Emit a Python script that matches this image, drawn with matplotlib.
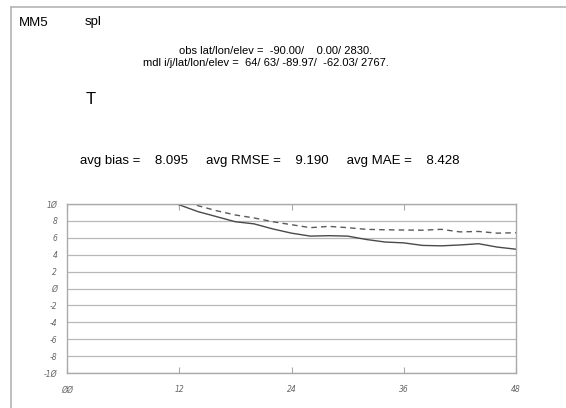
#!/usr/bin/env python3
"""
MM5 point verification plot: bias and RMSE of T over a 48 h forecast
"""

import matplotlib
matplotlib.use("Agg")
import matplotlib.pyplot as plt
from matplotlib.lines import Line2D

# forecast hour and verification stats
hours = [0, 2, 4, 6, 8, 10, 12, 14, 16, 18, 20, 22, 24,
         26, 28, 30, 32, 34, 36, 38, 40, 42, 44, 46, 48]
bias = [16.0, 14.5, 13.2, 12.2, 11.4, 10.6, 9.9, 9.1, 8.5, 7.9, 7.65, 7.05, 6.55,
        6.2, 6.25, 6.2, 5.8, 5.5, 5.4, 5.1, 5.05, 5.15, 5.3, 4.9, 4.65]
rmse = [17.5, 16.0, 14.6, 13.4, 12.3, 11.3, 10.5, 9.8, 9.2, 8.7, 8.35, 7.9, 7.55,
        7.2, 7.35, 7.2, 7.0, 6.95, 6.92, 6.9, 7.0, 6.7, 6.75, 6.55, 6.6]

x_ticks = [0, 12, 24, 36, 48]
x_labels = ["ØØ", "12", "24", "36", "48"]
y_ticks = [10, 8, 6, 4, 2, 0, -2, -4, -6, -8, -10]
y_labels = ["1Ø", "8", "6", "4", "2", "Ø", "-2", "-4", "-6", "-8", "-1Ø"]

model = "MM5"
station = "spl"
variable = "T"
obs_line = "obs lat/lon/elev =  -90.00/    0.00/ 2830."
mdl_line = "mdl i/j/lat/lon/elev =  64/ 63/ -89.97/  -62.03/ 2767."
stats_line = "avg bias =    8.095     avg RMSE =    9.190     avg MAE =    8.428"

plt.rcParams['font.family'] = ['Liberation Sans', 'DejaVu Sans']

fig = plt.figure(figsize=(5.66, 4.08), dpi=100)

# page frame (top and left edges)
frame_col = '#b4b4b4'
fig.add_artist(Line2D([11 / 566, 1.0], [1 - 7 / 408, 1 - 7 / 408],
                      transform=fig.transFigure, color=frame_col, lw=1.2))
fig.add_artist(Line2D([11 / 566, 11 / 566], [0.0, 1 - 7 / 408],
                      transform=fig.transFigure, color=frame_col, lw=1.2))

# header text
fig.text(19 / 566, 1 - 23 / 408, model, fontsize=9.5, va='center', ha='left')
fig.text(85 / 566, 1 - 22 / 408, station, fontsize=9.5, va='center', ha='left')
fig.text(276 / 566, 1 - 51 / 408, obs_line, fontsize=8, va='center', ha='center')
fig.text(266 / 566, 1 - 63 / 408, mdl_line, fontsize=8, va='center', ha='center')
fig.text(86 / 566, 1 - 100 / 408, variable, fontsize=12, va='center', ha='left')
fig.text(270 / 566, 1 - 161 / 408, stats_line, fontsize=9.5, va='center', ha='center')

ax = fig.add_axes([67 / 566, 1 - 373 / 408, (516 - 67) / 566, (373 - 204) / 408])

ax.plot(hours, bias, '-', color='#4a4a4a', lw=1.0)
ax.plot(hours, rmse, '--', color='#5a5a5a', lw=1.0, dashes=(4, 3))

ax.set_xlim(0, 48)
ax.set_ylim(-10, 10)

for y in y_ticks:
    ax.axhline(y, color='#b8b8b8', lw=0.9, zorder=0)

ax.set_xticks(x_ticks)
ax.set_xticklabels(x_labels)
ax.set_yticks(y_ticks)
ax.set_yticklabels(y_labels)
ax.tick_params(axis='x', direction='in', length=4, color='#aaaaaa', width=0.8,
               top=True, labelsize=5.5, labelcolor='#666666', pad=9)
ax.tick_params(axis='y', length=0, labelsize=5.5, labelcolor='#666666', pad=7)
for lab in ax.get_xticklabels() + ax.get_yticklabels():
    lab.set_family('DejaVu Sans')
    lab.set_style('italic')

for spine in ax.spines.values():
    spine.set_color('#aaaaaa')
    spine.set_linewidth(1.0)

plt.savefig("out.png", dpi=100)
